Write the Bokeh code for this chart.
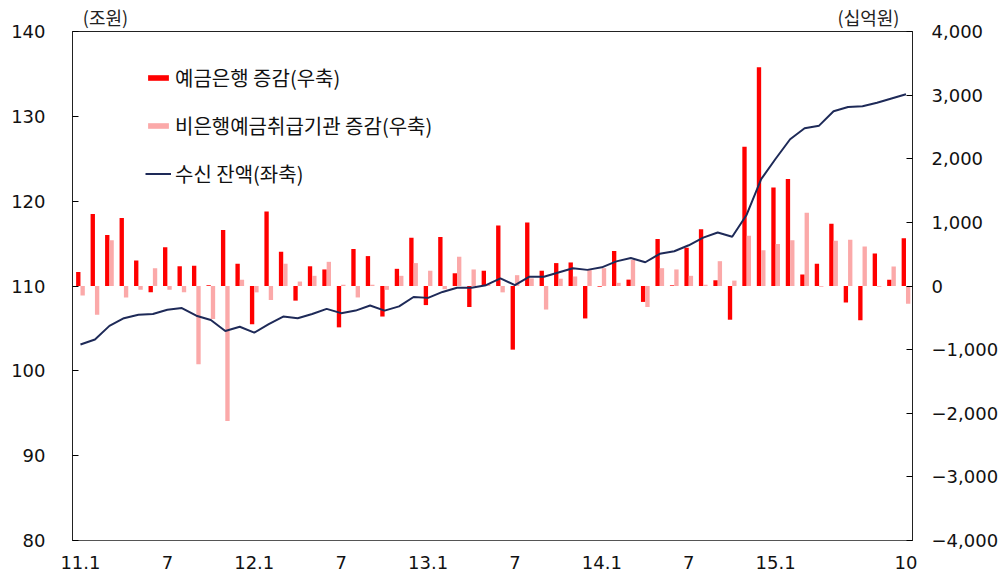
from bokeh.plotting import figure
from bokeh.models import (Range1d, LinearAxis, FixedTicker, Legend, LegendItem,
                          ColumnDataSource)
from bokeh.transform import dodge
from bokeh.embed import file_html
from bokeh.resources import INLINE

# ---------------- data ----------------
# months 2011.1 .. 2015.10 (index 0..57)
bank_change = [220, 1130, 800, 1070, 400, -100, 610, 310, 320, 10,
               880, 350, -600, 1170, 540, -230, 310, 260, -650, 580,
               470, -480, 270, 760, -300, 770, 200, -330, 240, 950,
               -1000, 1000, 240, 360, 370, -510, -10, 550, 100, -250,
               740, 10, 600, 890, 90, -530, 2190, 3440, 1550, 1680,
               180, 350, 980, -260, -540, 510, 100, 750]
nonbank_change = [-150, -450, 720, -180, -60, 280, -60, -100, -1230, -520,
                  -2120, 100, -100, -220, 350, 70, 160, 380, 20, -180,
                  20, -60, 160, 360, 240, -50, 460, 260, 30, -100,
                  170, 120, -370, 115, 150, 250, 280, 50, 410, -330,
                  280, 260, 160, 20, 390, 85, 790, 560, 660, 720,
                  1150, -10, 710, 725, 620, -10, 305, -280]
balance = [103.1, 103.7, 105.3, 106.2, 106.6, 106.7, 107.2, 107.4, 106.5, 106.0,
           104.7, 105.2, 104.5, 105.5, 106.4, 106.2, 106.7, 107.3, 106.8, 107.1,
           107.7, 107.1, 107.6, 108.7, 108.6, 109.3, 109.8, 109.8, 110.1, 110.9,
           110.1, 111.1, 111.1, 111.6, 112.1, 111.9, 112.2, 112.9, 113.3, 112.8,
           113.8, 114.1, 114.8, 115.7, 116.3, 115.8, 118.4, 122.6, 125.0, 127.3,
           128.6, 128.9, 130.6, 131.1, 131.2, 131.6, 132.1, 132.6]
month_index = list(range(len(balance)))

x_tick_pos = [0, 6, 12, 18, 24, 30, 36, 42, 48, 57]
x_tick_labels = ["11.1", "7", "12.1", "7", "13.1", "7", "14.1", "7", "15.1", "10"]
left_ticks = [80, 90, 100, 110, 120, 130, 140]
right_ticks = [-4000, -3000, -2000, -1000, 0, 1000, 2000, 3000, 4000]
right_tick_labels = ["\u22124,000", "\u22123,000", "\u22122,000", "\u22121,000", "0",
                     "1,000", "2,000", "3,000", "4,000"]

series_names = ["예금은행 증감(우축)", "비은행예금취급기관 증감(우축)", "수신 잔액(좌축)"]
unit_labels = ["(조원)", "(십억원)"]

# ---------------- figure ----------------
FONT = "DejaVu Sans"
KFONT = "Noto Sans CJK KR"
RED = "#FF0000"
PINK = "#FBA9A9"
NAVY = "#1E2A58"
W, H = 1007, 573
ML, MR, MT, MB = 72, 95, 31, 33
FW = W - ML - MR

src = ColumnDataSource(dict(x=month_index, bank=bank_change,
                            nonbank=nonbank_change, bal=balance))

p = figure(width=W, height=H, output_backend="svg", toolbar_location=None,
           x_range=Range1d(-0.55, 57.45), y_range=Range1d(80, 140),
           min_border_left=ML, min_border_right=MR, min_border_top=MT,
           min_border_bottom=MB)
p.extra_y_ranges = {"right": Range1d(-4000, 4000)}
p.extra_x_ranges = {"px": Range1d(0, FW)}

p.xgrid.visible = False
p.ygrid.visible = False
p.outline_line_color = "#222222"
p.outline_line_width = 1
p.background_fill_color = "white"
p.border_fill_color = "white"

r_bank = p.vbar(x=dodge("x", -0.15), top="bank", bottom=0, width=0.3,
                source=src, y_range_name="right", fill_color=RED,
                line_color=None)
r_non = p.vbar(x=dodge("x", 0.15), top="nonbank", bottom=0, width=0.3,
               source=src, y_range_name="right", fill_color=PINK,
               line_color=None)
r_bal = p.line(x="x", y="bal", source=src, line_color=NAVY, line_width=2)

# axes
xa = p.xaxis[0]
xa.ticker = FixedTicker(ticks=x_tick_pos)
xa.major_label_overrides = {pos: lab for pos, lab in zip(x_tick_pos, x_tick_labels)}
xa.major_tick_line_color = None
xa.minor_tick_line_color = None
xa.axis_line_color = "#555555"
xa.major_label_standoff = 9
xa.major_label_text_font = FONT
xa.major_label_text_font_size = "18px"
xa.major_label_text_color = "#111111"

ya = p.yaxis[0]
ya.ticker = FixedTicker(ticks=left_ticks)
ya.major_tick_in = 6
ya.major_tick_out = 0
ya.minor_tick_line_color = None
ya.axis_line_color = "#222222"
ya.major_label_standoff = 27
ya.major_label_text_font = FONT
ya.major_label_text_font_size = "18px"
ya.major_label_text_color = "#111111"

ra = LinearAxis(y_range_name="right", ticker=FixedTicker(ticks=right_ticks))
ra.major_label_overrides = {t: lab for t, lab in zip(right_ticks, right_tick_labels)}
ra.major_tick_in = 6
ra.major_tick_out = 0
ra.minor_tick_line_color = None
ra.axis_line_color = "#222222"
ra.major_label_standoff = 19
ra.major_label_text_font = FONT
ra.major_label_text_font_size = "18px"
ra.major_label_text_color = "#111111"
p.add_layout(ra, "right")

# unit captions above the frame (left and right), as tick labels of a bare axis
unit_pos = [33, 796]
ua = LinearAxis(x_range_name="px", ticker=FixedTicker(ticks=unit_pos))
ua.major_label_overrides = {t: lab for t, lab in zip(unit_pos, unit_labels)}
ua.axis_line_color = None
ua.major_tick_line_color = None
ua.minor_tick_line_color = None
ua.major_label_standoff = -4
ua.major_label_text_font = KFONT
ua.major_label_text_font_size = "18px"
ua.major_label_text_color = "#222222"
p.add_layout(ua, "above")

legend = Legend(items=[LegendItem(label=series_names[0], renderers=[r_bank]),
                       LegendItem(label=series_names[1], renderers=[r_non]),
                       LegendItem(label=series_names[2], renderers=[r_bal])],
                location=(73, 352), orientation="vertical",
                background_fill_alpha=0, border_line_alpha=0,
                padding=0, margin=0, spacing=19,
                glyph_width=26, glyph_height=7, label_standoff=4,
                label_text_font=KFONT, label_text_font_size="20px",
                label_text_color="#111111")
p.add_layout(legend)

open("out.html", "w").write(file_html(p, INLINE))
